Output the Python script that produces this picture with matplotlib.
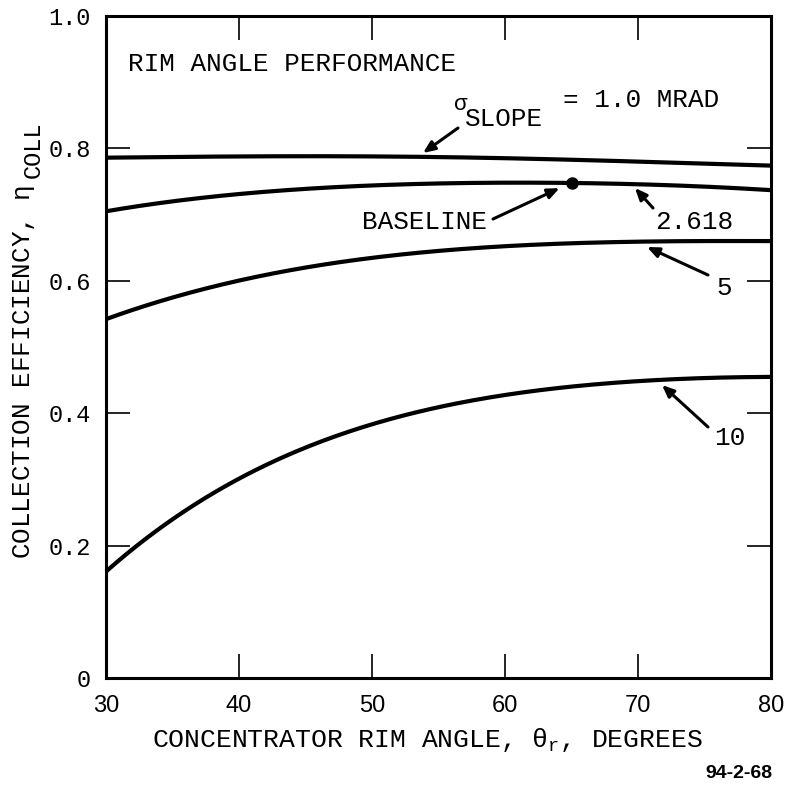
import numpy as np
import matplotlib.pyplot as plt

# collection efficiency vs. rim angle for several slope errors (mrad)
rim_angle = [30, 35, 40, 45, 50, 55, 60, 65, 70, 75, 80]
eta_sigma_1 = [0.786, 0.787, 0.788, 0.788, 0.788, 0.787, 0.785, 0.783, 0.780, 0.777, 0.774]
eta_sigma_2618 = [0.705, 0.720, 0.731, 0.739, 0.744, 0.747, 0.748, 0.748, 0.746, 0.742, 0.737]
eta_sigma_5 = [0.542, 0.575, 0.600, 0.620, 0.635, 0.645, 0.652, 0.657, 0.659, 0.660, 0.660]
eta_sigma_10 = [0.160, 0.242, 0.300, 0.347, 0.383, 0.410, 0.428, 0.440, 0.448, 0.453, 0.455]

baseline_angle = 65.0
baseline_eta = 0.748

x_ticks = [30, 40, 50, 60, 70, 80]
y_ticks = [0, 0.2, 0.4, 0.6, 0.8, 1.0]
y_tick_labels = ["0", "0.2", "0.4", "0.6", "0.8", "1.0"]

MONO = "Liberation Mono"
plt.rcParams['mathtext.fontset'] = 'custom'
plt.rcParams['mathtext.rm'] = MONO
plt.rcParams['mathtext.it'] = MONO
plt.rcParams['mathtext.bf'] = MONO

W, H = 791, 787
fig = plt.figure(figsize=(W / 100, H / 100), dpi=100)
ax = fig.add_axes([106 / W, 1 - 678 / H, 665 / W, 662 / H])


def smooth(xs, ys):
    xf = np.linspace(xs[0], xs[-1], 200)
    coef = np.polyfit(xs, ys, 4)
    return xf, np.polyval(coef, xf)


for ys in [eta_sigma_1, eta_sigma_2618, eta_sigma_5, eta_sigma_10]:
    xf, yf = smooth(rim_angle, ys)
    ax.plot(xf, yf, color='black', lw=3.0, solid_capstyle='butt', clip_on=False)

ax.plot([baseline_angle], [baseline_eta], 'o', color='black', ms=8)

ax.set_xlim(30, 80)
ax.set_ylim(0, 1.0)
for s in ax.spines.values():
    s.set_linewidth(2.2)

ax.set_xticks(x_ticks)
ax.set_xticklabels([str(t) for t in x_ticks], fontfamily="Liberation Sans", fontsize=17)
ax.set_yticks(y_ticks)
ax.set_yticklabels(y_tick_labels, fontfamily=MONO, fontsize=17)
ax.tick_params(direction='in', length=17, width=1.2, top=True, right=True, color='black')
ax.tick_params(axis='x', pad=12)
ax.tick_params(axis='y', pad=11)

ax.set_xlabel(r"CONCENTRATOR RIM ANGLE, $\theta_{\mathrm{r}}$, DEGREES",
              fontfamily=MONO, fontsize=19)
ax.xaxis.set_label_coords(0.483, -0.094)
ax.xaxis.label.set_va('center')
ax.set_ylabel(r"COLLECTION EFFICIENCY, $\eta$", fontfamily=MONO, fontsize=18.7)
ax.yaxis.set_label_coords(-0.124, 0.462)
ax.yaxis.label.set_va('center')


def px(x, y):
    # figure pixel (from top-left) -> data coords
    return ax.transData.inverted().transform(fig.transFigure.transform((x / W, 1 - y / H)))


# subscript of the y label, drawn nearly full size
fig.text(33 / W, 1 - 150 / H, "COLL", rotation=90, ha='center', va='center',
         fontfamily=MONO, fontsize=17)

txt = dict(fontfamily=MONO, fontsize=18.7, color='black')
arrow = dict(arrowstyle='-|>,head_length=0.7,head_width=0.3', lw=2.2, color='black',
             shrinkA=0, shrinkB=0)

ax.text(*px(128, 64), "RIM ANGLE PERFORMANCE", ha='left', va='center', **txt)

ax.text(*px(453, 104), r"$\sigma$", ha='left', va='center', fontsize=16)
ax.text(*px(465, 119), "SLOPE", ha='left', va='center', **txt)
ax.text(*px(563, 100), "= 1.0 MRAD", ha='left', va='center', **txt)
ax.annotate("", xy=px(423, 153), xytext=px(458, 128), arrowprops=arrow)

ax.text(*px(362, 222), "BASELINE", ha='left', va='center', **txt)
ax.annotate("", xy=(baseline_angle - 0.9, baseline_eta - 0.008), xytext=px(493, 219),
            arrowprops=arrow)

ax.text(*px(655, 222), "2.618", ha='left', va='center', **txt)
ax.annotate("", xy=px(635, 188), xytext=px(653, 208), arrowprops=arrow)

ax.text(*px(716, 288), "5", ha='left', va='center', **txt)
ax.annotate("", xy=px(647, 247), xytext=px(708, 275), arrowprops=arrow)

ax.text(*px(714, 438), "10", ha='left', va='center', **txt)
ax.annotate("", xy=px(662, 385), xytext=px(708, 427), arrowprops=arrow)

fig.text(772 / W, 1 - 774 / H, "94-2-68", ha='right', va='center',
         fontfamily="Liberation Sans", fontweight='bold', fontsize=14)

fig.savefig("out.png", dpi=100)
